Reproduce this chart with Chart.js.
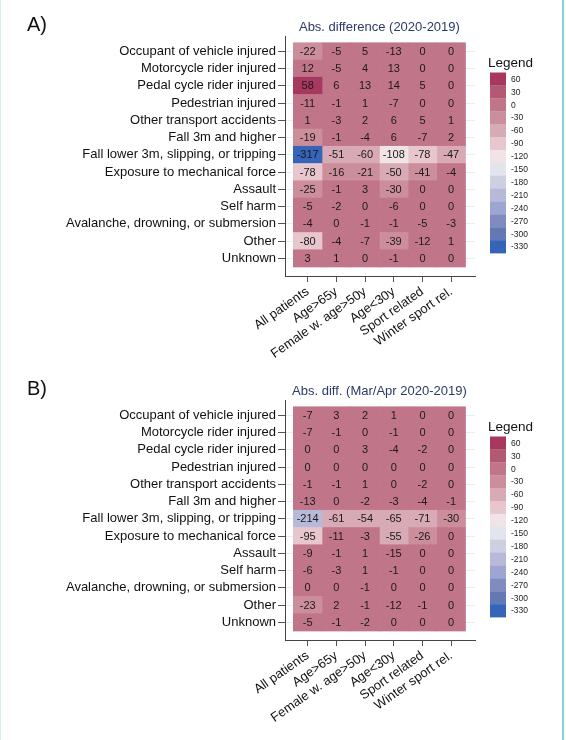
<!DOCTYPE html>
<html>
<head>
<meta charset="utf-8">
<script src="https://cdn.jsdelivr.net/npm/chart.js@4.4.1/dist/chart.umd.min.js"></script>
<style>
  body { margin: 0; background: #fff; }
  .page { position: relative; width: 566px; height: 740px; overflow: hidden; background: #fff; }
  .panel { position: absolute; left: 0; width: 566px; height: 364px; }
  .edge-r { position: absolute; left: 562px; top: 0; width: 2px; height: 740px; background: #7fd4dd; }
  .edge-l { position: absolute; left: 0; top: 0; width: 1px; height: 740px; background: #d6f0f3; }
</style>
</head>
<body>
<div class="page">
  <div class="panel" style="top:0"><canvas id="chartA" width="566" height="364"></canvas></div>
  <div class="panel" style="top:364px"><canvas id="chartB" width="566" height="364"></canvas></div>
  <div class="edge-l"></div>
  <div class="edge-r"></div>
</div>
<script>
// row / column names
const rows = [
  'Occupant of vehicle injured',
  'Motorcycle rider injured',
  'Pedal cycle rider injured',
  'Pedestrian injured',
  'Other transport accidents',
  'Fall 3m and higher',
  'Fall lower 3m, slipping, or tripping',
  'Exposure to mechanical force',
  'Assault',
  'Self harm',
  'Avalanche, drowning, or submersion',
  'Other',
  'Unknown'
];
const groups = ['All patients', 'Age>65y', 'Female w. age>50y', 'Age<30y', 'Sport related', 'Winter sport rel.'];

// A) whole year, one line per row
const diffYear = [
  [-22, -5, 5, -13, 0, 0],
  [12, -5, 4, 13, 0, 0],
  [58, 6, 13, 14, 5, 0],
  [-11, -1, 1, -7, 0, 0],
  [1, -3, 2, 6, 5, 1],
  [-19, -1, -4, 6, -7, 2],
  [-317, -51, -60, -108, -78, -47],
  [-78, -16, -21, -50, -41, -4],
  [-25, -1, 3, -30, 0, 0],
  [-5, -2, 0, -6, 0, 0],
  [-4, 0, -1, -1, -5, -3],
  [-80, -4, -7, -39, -12, 1],
  [3, 1, 0, -1, 0, 0]
];

// B) March/April only
const diffMarApr = [
  [-7, 3, 2, 1, 0, 0],
  [-7, -1, 0, -1, 0, 0],
  [0, 0, 3, -4, -2, 0],
  [0, 0, 0, 0, 0, 0],
  [-1, -1, 1, 0, -2, 0],
  [-13, 0, -2, -3, -4, -1],
  [-214, -61, -54, -65, -71, -30],
  [-95, -11, -3, -55, -26, 0],
  [-9, -1, 1, -15, 0, 0],
  [-6, -3, 1, -1, 0, 0],
  [0, 0, -1, 0, 0, 0],
  [-23, 2, -1, -12, -1, 0],
  [-5, -1, -2, 0, 0, 0]
];

// colour key
const legendTicks = [60, 30, 0, -30, -60, -90, -120, -150, -180, -210, -240, -270, -300, -330];
const legendColors = [
  '#a8385f', '#b25a73', '#c07588', '#cd8e9c', '#d8aab5', '#e7c6ce', '#f0e4e7',
  '#e4e4ee', '#ccd0e0', '#b6bad8', '#9ca6d0', '#808cc0', '#6478b4', '#3664b8'
];

function binColor(v) {
  let step = Math.round(v / 30) * 30;
  let idx = legendTicks.indexOf(step);
  if (idx < 0) idx = step > 0 ? 0 : legendTicks.length - 1;
  return legendColors[idx];
}

const FONT = '"Liberation Sans", Arial, Helvetica, sans-serif';

const heatExtras = {
  id: 'heatExtras',
  afterDatasetsDraw(chart) {
    const ctx = chart.ctx;
    ctx.save();
    ctx.font = '11px ' + FONT;
    ctx.fillStyle = '#1a1a1a';
    ctx.textAlign = 'center';
    ctx.textBaseline = 'middle';
    chart.data.datasets.forEach((ds, di) => {
      chart.getDatasetMeta(di).data.forEach((bar, i) => {
        ctx.fillText(String(ds.data[i].v), (bar.x + bar.base) / 2, bar.y + 0.5);
      });
    });
    ctx.restore();
  },
  afterDraw(chart, args, opts) {
    const ctx = chart.ctx;
    const xs = chart.scales.x;
    ctx.save();
    // panel letter
    ctx.font = '20px ' + FONT;
    ctx.fillStyle = '#111';
    ctx.textAlign = 'left';
    ctx.textBaseline = 'middle';
    ctx.fillText(opts.letter, 27, 25);
    // title over the cells
    ctx.font = '13px ' + FONT;
    ctx.fillStyle = '#2b3a67';
    ctx.textAlign = 'center';
    ctx.fillText(opts.title, (xs.getPixelForValue(0) + xs.getPixelForValue(groups.length)) / 2, 27);
    // colour key
    ctx.font = '13.5px ' + FONT;
    ctx.fillStyle = '#111';
    ctx.textAlign = 'left';
    ctx.fillText('Legend', 488, 63);
    const bx = 490, by = 72.5, bh = 12.9;
    ctx.font = '8.5px ' + FONT;
    legendTicks.forEach((t, i) => {
      ctx.fillStyle = legendColors[i];
      ctx.fillRect(bx, by + i * bh, 16, bh + 0.3);
      ctx.fillStyle = '#222';
      ctx.fillText(String(t), bx + 21, by + i * bh + bh / 2 + 0.5);
    });
    ctx.restore();
  }
};

function makeHeatmap(id, values, title, letter) {
  const datasets = groups.map((g, c) => ({
    label: g,
    data: rows.map((r, i) => ({ x: [c, c + 1], y: i, v: values[i][c] })),
    backgroundColor: rows.map((r, i) => binColor(values[i][c])),
    borderWidth: 0,
    grouped: false,
    barPercentage: 1,
    categoryPercentage: 1
  }));

  return new Chart(document.getElementById(id), {
    type: 'bar',
    data: { datasets: datasets },
    options: {
      indexAxis: 'y',
      responsive: false,
      animation: false,
      events: [],
      layout: { padding: { top: 36, right: 91, left: 0, bottom: 0 } },
      plugins: {
        legend: { display: false },
        tooltip: { enabled: false },
        heatExtras: { title: title, letter: letter }
      },
      scales: {
        x: {
          type: 'linear',
          min: -0.29,
          max: 6.33,
          afterBuildTicks: (scale) => { scale.ticks = groups.map((g, i) => ({ value: i + 0.5 })); },
          afterFit: (scale) => { scale.height = 88; },
          ticks: {
            autoSkip: false,
            minRotation: 35,
            maxRotation: 35,
            padding: 2,
            color: '#111',
            font: { family: FONT, size: 13 },
            callback: (v, i) => groups[i]
          },
          grid: { drawOnChartArea: false, drawTicks: true, tickLength: 6, tickColor: '#555' },
          border: { display: true, color: '#444', width: 1 }
        },
        y: {
          type: 'linear',
          reverse: true,
          offset: false,
          min: -0.89,
          max: 13.02,
          afterBuildTicks: (scale) => { scale.ticks = rows.map((r, i) => ({ value: i })); },
          afterFit: (scale) => { scale.width = 285; },
          ticks: {
            autoSkip: false,
            padding: 2,
            color: '#111',
            font: { family: FONT, size: 13 },
            callback: (v, i) => rows[i]
          },
          grid: { offset: false, color: '#e2f1f5', lineWidth: 1, tickLength: 7, tickColor: '#555' },
          border: { display: true, color: '#444', width: 1 }
        }
      }
    },
    plugins: [heatExtras]
  });
}

makeHeatmap('chartA', diffYear, 'Abs. difference (2020-2019)', 'A)');
makeHeatmap('chartB', diffMarApr, 'Abs. diff. (Mar/Apr 2020-2019)', 'B)');
</script>
</body>
</html>
